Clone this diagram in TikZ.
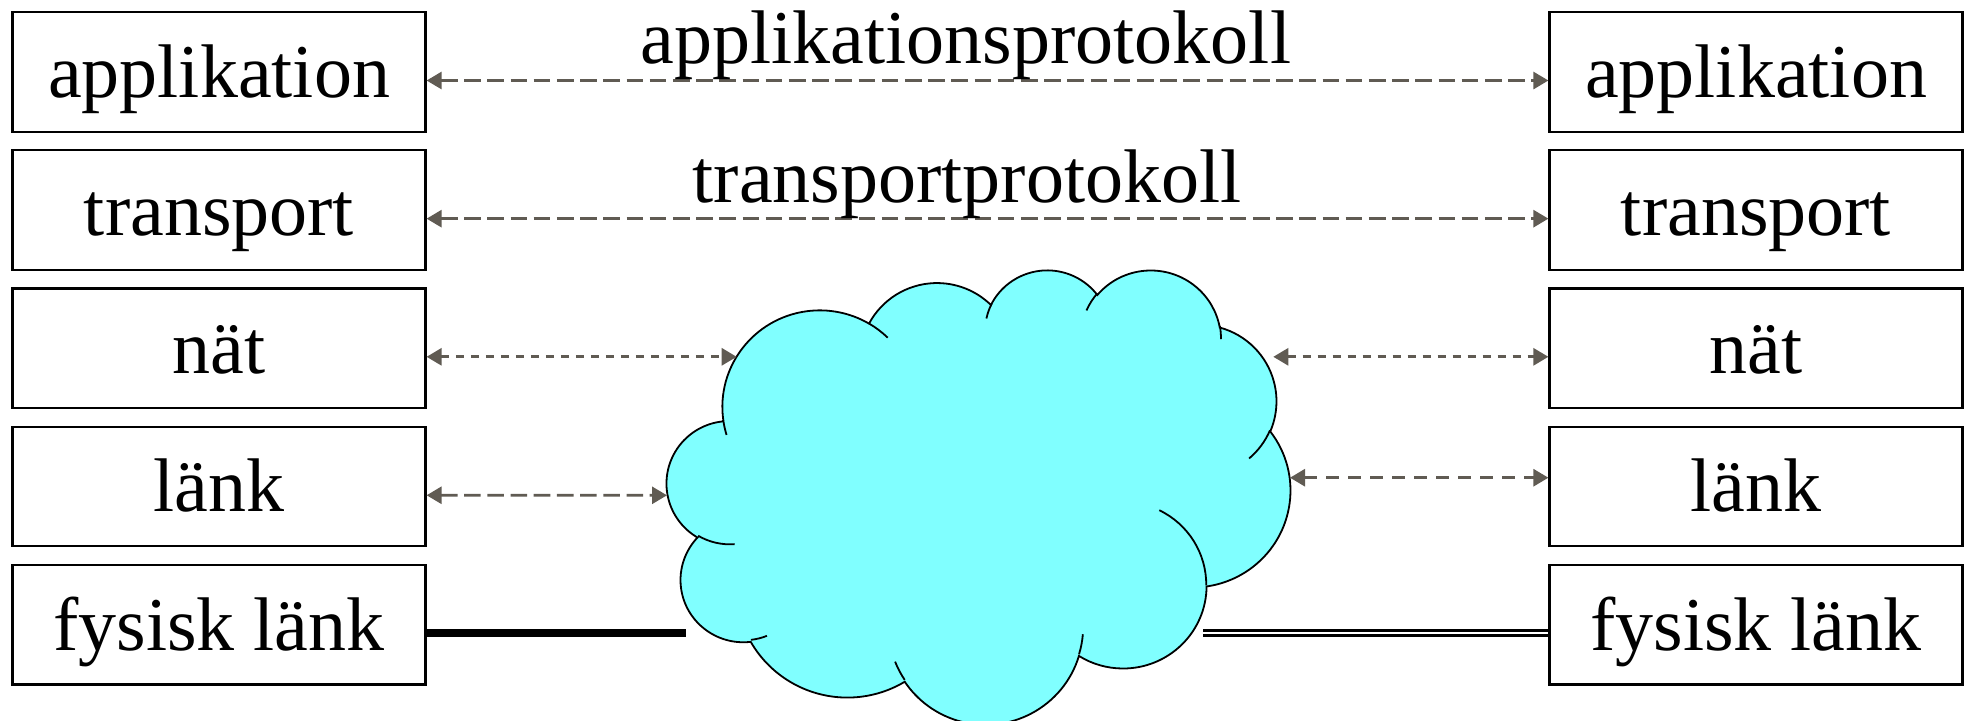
\documentclass[tikz,border=0pt]{standalone}
\usepackage{fontspec}
\setmainfont{Liberation Serif}
\usetikzlibrary{arrows.meta}
\definecolor{cloudcyan}{RGB}{128,255,255}
\definecolor{conncol}{RGB}{96,91,83}
\tikzset{
  ooarc/.style args={#1/#2/#3/#4}{insert path={arc[x radius=#1, y radius=#2,
     start angle={atan2((#1)*sin(#3),(#2)*cos(#3))},
     delta angle={mod(atan2((#1)*sin(#3+#4),(#2)*cos(#3+#4))-atan2((#1)*sin(#3),(#2)*cos(#3))+720,360)}]}},
  box/.style={draw, line width=1.1pt, minimum width=206.5pt, minimum height=59.8pt,
     inner sep=0pt, text height=25.5pt, text depth=0pt, font=\fontsize{38pt}{40pt}\selectfont},
  lbl/.style={inner sep=0pt, font=\fontsize{38pt}{40pt}\selectfont},
  conn/.style={color=conncol, line width=1.4pt,
     {Triangle[length=7.5pt,width=8.5pt]}-{Triangle[length=7.5pt,width=8.5pt]}},
  longdash/.style={dash pattern=on 8.3pt off 3.3pt},
  shortdash/.style={dash pattern=on 4.2pt off 3.3pt},
  middash/.style={dash pattern=on 6.5pt off 4.5pt},
  cloudline/.style={line width=0.9pt, draw=black}
}
\begin{document}
\begin{tikzpicture}[x=0.5pt, y=-0.5pt]
\useasboundingbox (0,0) rectangle (1966,720);

% cloud
\begin{scope}[shift={(667,268.9)}]
\begin{scope}[x=0.7213pt, y={(0pt,-0.5257pt)}]
\path[fill=cloudcyan, cloudline] (39.00,143.70)
  [ooarc=67.53/91.90/-190.48748/123.78053]
  [ooarc=53.33/72.67/-144.10238/89.94523]
  [ooarc=43.65/59.45/-145.80792/99.72302]
  [ooarc=48.57/65.95/-130.98607/117.24173]
  [ooarc=53.33/72.73/-78.70888/109.02692]
  [ooarc=67.75/92.20/-46.26725/130.269]
  [ooarc=57.85/78.67/0.62502/114.03333]
  [ooarc=67.52/92.15/22.4516/115.17255]
  [ooarc=77.20/105.43/66.24263/75.71102]
  [ooarc=43.60/59.18/-274.94208/146.73557]
  [ooarc=43.45/59.45/-246.8285/152.51885] -- cycle;
\path[cloudline]
  (46.93,261.77) [ooarc=43.45/59.45/86.742/26.4295]
  (69.28,348.99) [ooarc=43.60/59.18/73.61047/11.44747]
  (164.78,390.90) [ooarc=67.52/92.15/137.62415/14.0811]
  (288.27,347.51) [ooarc=67.52/92.15/6.45327/15.99835]
  (341.29,229.54) [ooarc=57.85/78.67/-70.29235/70.91737]
  (417.98,153.54) [ooarc=53.33/72.73/30.31803/27.7515]
  (383.24,54.26) [ooarc=48.57/65.95/-13.74433/14.8589]
  (290.78,39.52) [ooarc=48.57/65.95/-149.18145/18.19537]
  (221.41,47.20) [ooarc=43.65/59.45/-163.49427/17.68635]
  (140.00,51.92) [ooarc=67.53/91.90/-66.70695/12.31935]
  (41.27,157.89) [ooarc=67.53/91.90/157.65435/11.85817];
\end{scope}
\end{scope}

% connector end points on the cloud side
\coordinate (c3l) at (736.7,356.8);
\coordinate (c4l) at (667,495.3);
\coordinate (c3r) at (1273.3,356.8);
\coordinate (c4r) at (1290,477.7);
\coordinate (c5l) at (686,633);
\coordinate (c5r) at (1203.3,633);

% boxes
\node[box] (L1) at (219,72) {applikation};
\node[box] (L2) at (219,210.15) {transport};
\node[box] (L3) at (219,348.3) {nät};
\node[box] (L4) at (219,486.45) {länk};
\node[box] (L5) at (219,624.6) {fysisk länk};
\node[box] (R1) at (1756,72) {applikation};
\node[box] (R2) at (1756,210.15) {transport};
\node[box] (R3) at (1756,348.3) {nät};
\node[box] (R4) at (1756,486.45) {länk};
\node[box] (R5) at (1756,624.6) {fysisk länk};

% connectors
\draw[conn, longdash] ([yshift=-4.25pt]L1.east) -- ([yshift=-4.25pt]R1.west);
\draw[conn, longdash] ([yshift=-4.25pt]L2.east) -- ([yshift=-4.25pt]R2.west);
\draw[conn, shortdash] ([yshift=-4.25pt]L3.east) -- (c3l);
\draw[conn, shortdash] (c3r) -- ([yshift=-4.25pt]R3.west);
\draw[conn, longdash] ([yshift=-4.4pt]L4.east) -- (c4l);
\draw[conn, middash] (c4r) -- ([yshift=4.375pt]R4.west);
\draw[line width=4.35pt] ([yshift=-4.2pt]L5.east) -- (c5l);
\draw[line width=1.5pt, double=white, double distance=1.4pt] (c5r) -- ([yshift=-4.2pt]R5.west);

% labels
\node[lbl, anchor=base] (lab1) at (966,63) {applikationsprotokoll};
\node[lbl, anchor=base] (lab2) at (967,202) {transportprotokoll};
\end{tikzpicture}
\end{document}
